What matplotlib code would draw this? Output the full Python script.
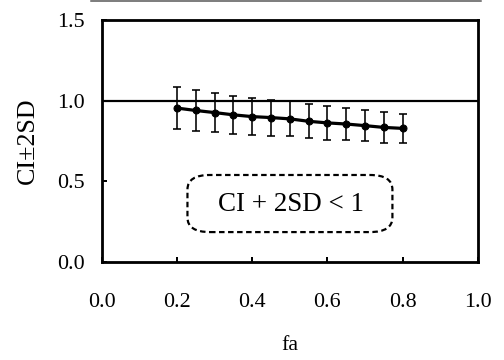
import matplotlib
matplotlib.use("Agg")
import matplotlib.pyplot as plt
from matplotlib.patches import FancyBboxPatch
from matplotlib.lines import Line2D

plt.rcParams["font.family"] = ["Liberation Serif", "DejaVu Serif"]

fa = [0.20, 0.25, 0.30, 0.35, 0.40, 0.45, 0.50, 0.55, 0.60, 0.65, 0.70, 0.75, 0.80]
ci = [0.955, 0.940, 0.927, 0.913, 0.902, 0.896, 0.888, 0.873, 0.863, 0.856, 0.846, 0.835, 0.829]
two_sd = [0.128, 0.125, 0.122, 0.118, 0.116, 0.112, 0.108, 0.106, 0.103, 0.100, 0.098, 0.095, 0.092]
x_ticks = [0.0, 0.2, 0.4, 0.6, 0.8, 1.0]
y_ticks = [0.0, 0.5, 1.0, 1.5]

fig = plt.figure(figsize=(7.0, 5.0), dpi=72)
ax = fig.add_axes([0.2018, 0.272, 0.7462, 0.672])

ax.axhline(1.0, color="black", lw=2.2, zorder=2)
ax.errorbar(fa, ci, yerr=two_sd, color="black", lw=3.2, marker="o", ms=7,
            elinewidth=1.6, capsize=4, capthick=1.6, zorder=3)

ax.set_xlim(0.0, 1.0)
ax.set_ylim(0.0, 1.5)
ax.set_xticks(x_ticks)
ax.set_yticks(y_ticks)
ax.set_xticklabels([f"{v:.1f}" for v in x_ticks])
ax.set_yticklabels([f"{v:.1f}" for v in y_ticks])
ax.tick_params(direction="in", length=5, width=2, labelsize=22)
ax.tick_params(axis="x", pad=31)
ax.tick_params(axis="y", pad=17)
for s in ax.spines.values():
    s.set_linewidth(2.8)

ax.set_xlabel("fa", fontsize=22, labelpad=24)
ax.set_ylabel("CI\u00b12SD", fontsize=26, labelpad=18)

box = FancyBboxPatch((0.228, 0.124), 0.545, 0.236, transform=ax.transAxes,
                     boxstyle="round,pad=0,rounding_size=0.06",
                     fill=False, ec="black", lw=2.2, ls=(0, (2.5, 1.6)), zorder=4)
ax.add_patch(box)
ax.text(0.502, 0.238, "CI + 2SD < 1", transform=ax.transAxes, fontsize=27,
        ha="center", va="center", zorder=5)

fig.add_artist(Line2D([0.18, 0.955], [0.997, 0.997], transform=fig.transFigure,
                      color="#555555", lw=1.5))

fig.savefig("out.png", dpi=72)
